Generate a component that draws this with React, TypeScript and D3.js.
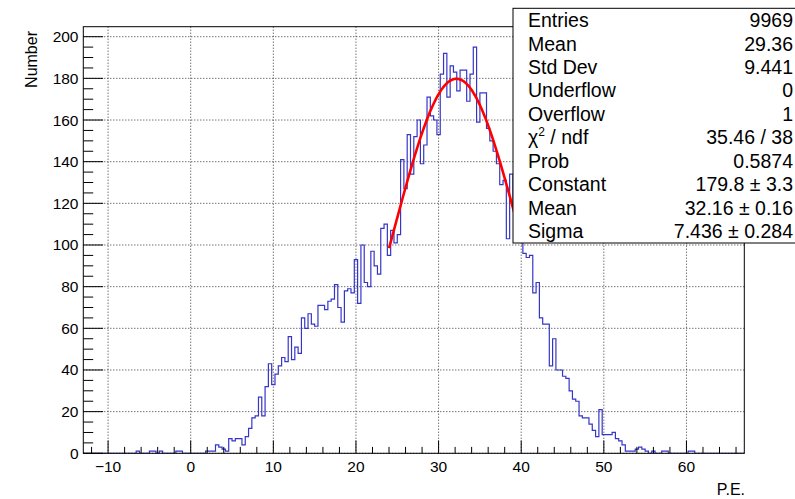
import React from "react";
import * as d3 from "d3";

// ---------------- data ----------------
const xMin = -13;
const xMax = 67;
const binWidth = 0.4;
// 200 bins of 0.4 P.E. from -13 to 67
const counts: number[] = [
  0, 0, 0, 0, 0, 0, 0, 0, 0, 0,
  0, 0, 0, 0, 0, 0, 1, 0, 0, 0,
  1, 1, 0, 1, 0, 0, 0, 0, 1, 1,
  0, 0, 0, 0, 0, 0, 0, 1, 1, 1,
  4, 3, 2, 1, 7, 6, 7, 7, 4, 8,
  12, 17, 18, 27, 18, 32, 43, 33, 38, 42,
  46, 44, 56, 45, 51, 48, 65, 60, 67, 62,
  61, 71, 71, 69, 73, 74, 81, 70, 63, 78,
  79, 77, 93, 72, 100, 82, 80, 97, 90, 86,
  108, 110, 95, 107, 101, 105, 141, 127, 153, 134,
  152, 160, 139, 148, 171, 162, 160, 153, 182, 192,
  171, 186, 183, 174, 184, 184, 169, 182, 195, 159,
  173, 173, 156, 150, 145, 139, 129, 131, 103, 134,
  118, 108, 104, 96, 94, 95, 77, 82, 65, 62,
  62, 42, 55, 40, 40, 37, 36, 30, 26, 25,
  18, 17, 17, 14, 11, 8, 21, 9, 9, 9,
  10, 7, 6, 4, 1, 1, 1, 2, 3, 2,
  1, 0, 1, 0, 0, 1, 1, 0, 0, 0,
  0, 0, 0, 1, 1, 0, 0, 0, 0, 0,
  0, 0, 0, 0, 0, 0, 0, 0, 0, 0,
];
const yMaxValue = 204.8;
const xMajorTicks = [-10, 0, 10, 20, 30, 40, 50, 60];
const yMajorTicks = [0, 20, 40, 60, 80, 100, 120, 140, 160, 180, 200];
const xMinorStep = 2;
const yMinorStep = 5;

const fitConstant = 179.8;
const fitMean = 32.16;
const fitSigma = 7.436;
const fitFrom = 24;
const fitTo = 40;

const statLabels = ["Entries", "Mean", "Std Dev", "Underflow", "Overflow", "CHI", "Prob", "Constant", "Mean", "Sigma"];
const statValues = ["9969", "29.36", "9.441", "0", "1", "35.46 / 38", "0.5874", "179.8 \u00b1 3.3", "32.16 \u00b1 0.16", "7.436 \u00b1 0.284"];

const xTitle = "P.E.";
const yTitle = "Number";

// ---------------- layout ----------------
const W = 795;
const H = 499;
const frame = { left: 83.3, right: 744.3, top: 26.7, bottom: 453.3 };
const FONT = "'Liberation Sans', Arial, Helvetica, sans-serif";

export default function App() {
  const x = d3.scaleLinear().domain([xMin, xMax]).range([frame.left, frame.right]);
  const y = d3.scaleLinear().domain([0, yMaxValue]).range([frame.bottom, frame.top]);

  // histogram step outline
  const pts: [number, number][] = [[xMin, 0]];
  counts.forEach((c, i) => {
    const lo = xMin + i * binWidth;
    const hi = lo + binWidth;
    pts.push([lo, c]);
    pts.push([hi, c]);
  });
  pts.push([xMax, 0]);
  const histPath = d3
    .line<[number, number]>()
    .x((d) => x(d[0]))
    .y((d) => y(d[1]))(pts) as string;

  const fitPts = d3.range(fitFrom, fitTo + 0.0001, 0.1).map((v) => [
    v,
    fitConstant * Math.exp(-0.5 * ((v - fitMean) / fitSigma) ** 2),
  ]) as [number, number][];
  const fitPath = d3
    .line<[number, number]>()
    .x((d) => x(d[0]))
    .y((d) => y(d[1]))
    .curve(d3.curveMonotoneX)(fitPts) as string;

  const xMinor = d3.range(-12, 67, xMinorStep).filter((v) => !xMajorTicks.includes(v));
  const yMinor = d3.range(0, yMaxValue, yMinorStep).filter((v) => !yMajorTicks.includes(v));

  const boxLeft = 513;
  const boxTop = 8.3;
  const boxBottom = 243;
  const rowH = (boxBottom - boxTop) / statLabels.length;

  return (
    <div style={{ position: "fixed", left: 0, top: 0, width: W, height: H, background: "#fff" }}>
      <svg width={W} height={H} viewBox={`0 0 ${W} ${H}`} style={{ display: "block" }}>
        <rect x={0} y={0} width={W} height={H} fill="#fff" />
        <defs>
          <clipPath id="frameClip">
            <rect x={frame.left} y={frame.top} width={frame.right - frame.left} height={frame.bottom - frame.top} />
          </clipPath>
        </defs>

        {/* grid */}
        <g stroke="#333" strokeWidth={1} strokeDasharray="1 2" fill="none">
          {xMajorTicks.map((t) => (
            <line key={"gx" + t} x1={x(t)} x2={x(t)} y1={frame.top} y2={frame.bottom} />
          ))}
          {yMajorTicks.map((t) => (
            <line key={"gy" + t} x1={frame.left} x2={frame.right} y1={y(t)} y2={y(t)} />
          ))}
        </g>

        {/* histogram */}
        <path d={histPath} fill="none" stroke="#3535c8" strokeWidth={1.2} clipPath="url(#frameClip)" />

        {/* fit */}
        <path d={fitPath} fill="none" stroke="#ff0000" strokeWidth={2.6} clipPath="url(#frameClip)" />

        {/* frame */}
        <rect
          x={frame.left}
          y={frame.top}
          width={frame.right - frame.left}
          height={frame.bottom - frame.top}
          fill="none"
          stroke="#000"
          strokeWidth={1}
        />

        {/* ticks */}
        <g stroke="#000" strokeWidth={1}>
          {xMajorTicks.map((t) => (
            <line key={"xt" + t} x1={x(t)} x2={x(t)} y1={frame.bottom} y2={frame.bottom - 12.8} />
          ))}
          {xMinor.map((t) => (
            <line key={"xm" + t} x1={x(t)} x2={x(t)} y1={frame.bottom} y2={frame.bottom - 6.4} />
          ))}
          {yMajorTicks.map((t) => (
            <line key={"yt" + t} x1={frame.left} x2={frame.left + 19.8} y1={y(t)} y2={y(t)} />
          ))}
          {yMinor.map((t) => (
            <line key={"ym" + t} x1={frame.left} x2={frame.left + 9.9} y1={y(t)} y2={y(t)} />
          ))}
        </g>

        {/* tick labels */}
        <g fontFamily={FONT} fontSize={15.5} fill="#000">
          {xMajorTicks.map((t) => (
            <text key={"xl" + t} x={x(t)} y={471.5} textAnchor="middle">
              {t < 0 ? "\u2212" + Math.abs(t) : String(t)}
            </text>
          ))}
          {yMajorTicks.map((t) => (
            <text key={"yl" + t} x={78.5} y={y(t) + 5.5} textAnchor="end">
              {t}
            </text>
          ))}
        </g>

        {/* axis titles */}
        <text x={745} y={495} textAnchor="end" fontFamily={FONT} fontSize={16} fill="#000">
          {xTitle}
        </text>
        <text
          transform={`translate(37, 31) rotate(-90)`}
          textAnchor="end"
          fontFamily={FONT}
          fontSize={16}
          fill="#000"
        >
          {yTitle}
        </text>

        {/* stats box */}
        <rect x={boxLeft} y={boxTop} width={W - boxLeft + 10} height={boxBottom - boxTop} fill="#fff" stroke="#000" strokeWidth={1} />
        <g fontFamily={FONT} fontSize={19.5} fill="#000">
          {statLabels.map((lab, i) => {
            const by = boxTop + rowH * (i + 0.5) + 7;
            return (
              <g key={"st" + i}>
                {lab === "CHI" ? (
                  <text x={528} y={by}>
                    {"\u03c7"}
                    <tspan fontSize={12} dy={-8}>2</tspan>
                    <tspan dy={8}>{" / ndf"}</tspan>
                  </text>
                ) : (
                  <text x={528} y={by}>
                    {lab}
                  </text>
                )}
                <text x={793} y={by} textAnchor="end">
                  {statValues[i]}
                </text>
              </g>
            );
          })}
        </g>
      </svg>
    </div>
  );
}
